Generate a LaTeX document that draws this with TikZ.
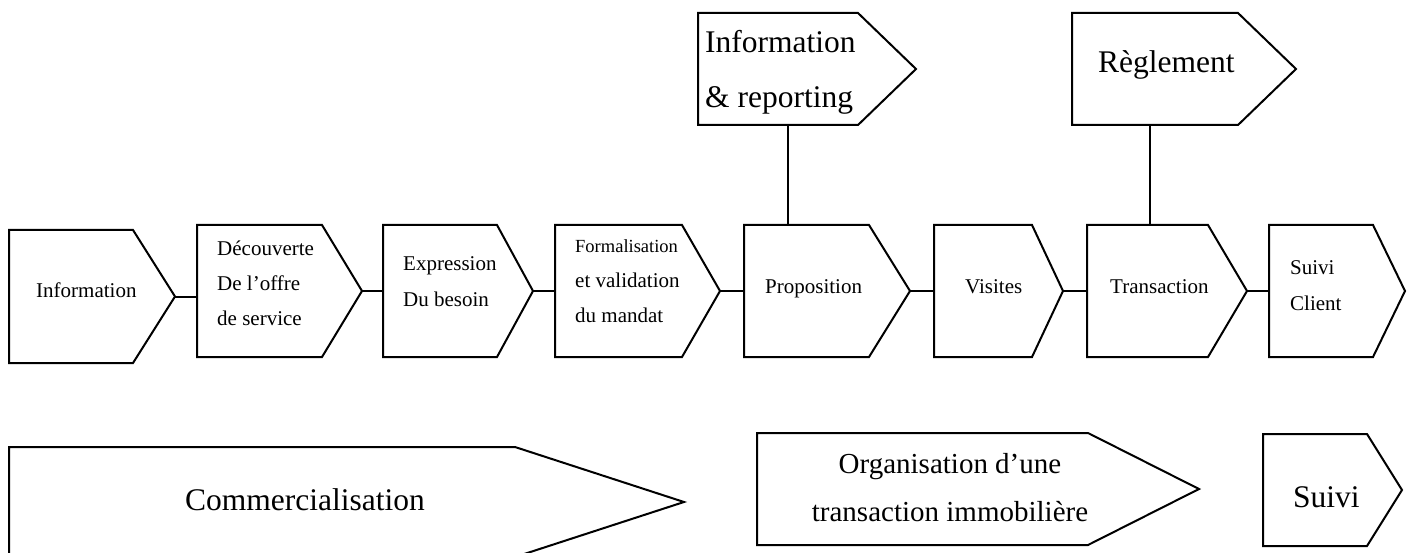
\documentclass[tikz,border=0pt]{standalone}
\usepackage{fontspec}
\setmainfont{Liberation Serif}
\usetikzlibrary{calc}

% chevron box: name, left, top, corner x, tip x, bottom
\newcommand\chevbox[6]{%
  \node[area, minimum width={#5-#2}, minimum height={#6-#3}]
    (#1) at ({(#2+#5)/2},{(#3+#6)/2}) {};
  \draw[outline] (#1.north west) -- (#4,#3) -- (#1.east) -- (#4,#6)
    -- (#1.south west) -- cycle;
}
% stacked lines whose baseline is the first line's
\newcommand\stackL[1]{\begin{tabular}[t]{@{}l@{}}#1\end{tabular}}
\newcommand\stackC[1]{\begin{tabular}[t]{@{}c@{}}#1\end{tabular}}

\tikzset{
  area/.style={inner sep=0pt, outer sep=0pt, draw=none, rectangle},
  outline/.style={draw=black, line width=2pt, line join=miter, fill=white},
  link/.style={draw=black, line width=2pt},
  small/.style={inner sep=0pt, anchor=base west, font=\fontsize{21}{35}\selectfont},
  big/.style={inner sep=0pt, anchor=base west, font=\fontsize{31.5}{55}\selectfont},
}

\begin{document}
\begin{tikzpicture}[x=1pt, y=-1pt]
  \path[use as bounding box] (0,0) rectangle (1410,553);
  \clip (0,0) rectangle (1410,553);

  % main process chain
  \chevbox{info}{9}{230}{133}{175}{363}
  \chevbox{dec}{197}{225}{322}{362}{357}
  \chevbox{exp}{383}{225}{497}{533}{357}
  \chevbox{form}{555}{225}{682}{720}{357}
  \chevbox{prop}{744}{225}{869}{910}{357}
  \chevbox{vis}{934}{225}{1032}{1063}{357}
  \chevbox{trans}{1087}{225}{1208}{1247}{357}
  \chevbox{sc}{1269}{225}{1373}{1405}{357}

  % support activities above
  \chevbox{ir}{698}{13}{858}{916}{125}
  \chevbox{reg}{1072}{13}{1238}{1296}{125}

  % phases below
  \chevbox{com}{9}{447}{515}{684}{557}
  \chevbox{org}{757}{433}{1088}{1199}{545}
  \chevbox{suiv}{1263}{434}{1367}{1402}{546}

  % connectors
  \draw[link] (info.east) -- (info.east -| dec.west);
  \draw[link] (dec.east) -- (exp.west);
  \draw[link] (exp.east) -- (form.west);
  \draw[link] (form.east) -- (prop.west);
  \draw[link] (prop.east) -- (vis.west);
  \draw[link] (vis.east) -- (trans.west);
  \draw[link] (trans.east) -- (sc.west);
  \draw[link] ([xshift=-19pt]ir.south) -- ([xshift=-19pt]ir.south |- prop.north);
  \draw[link] ([xshift=-34pt]reg.south) -- ([xshift=-34pt]reg.south |- trans.north);

  % labels
  \node[small] (t-info) at (36,297) {Information};
  \node[small] (t-dec) at (217,256) {\stackL{Découverte\\De l’offre\\de service}};
  \node[small, font=\fontsize{21}{36}\selectfont] (t-exp) at (403,270) {\stackL{Expression\\Du besoin}};
  \node[small] (t-form) at (575,253) {\stackL{{\fontsize{18.5}{35}\selectfont Formalisation}\\et validation\\du mandat}};
  \node[small] (t-prop) at (765,293) {Proposition};
  \node[small] (t-vis) at (965,293) {Visites};
  \node[small] (t-trans) at (1110,293) {Transaction};
  \node[small, font=\fontsize{21}{36}\selectfont] (t-sc) at (1290,274) {\stackL{Suivi\\Client}};

  \node[big] (t-ir) at (705,53) {\stackL{Information\\\& reporting}};
  \node[big] (t-reg) at (1098,73) {Règlement};

  \node[big] (t-com) at (185,510) {Commercialisation};
  \node[big, anchor=base, font=\fontsize{29}{48}\selectfont] (t-org) at (950,473)
    {\stackC{Organisation d’une\\transaction immobilière}};
  \node[big] (t-suiv) at (1293,507) {Suivi};
\end{tikzpicture}
\end{document}
